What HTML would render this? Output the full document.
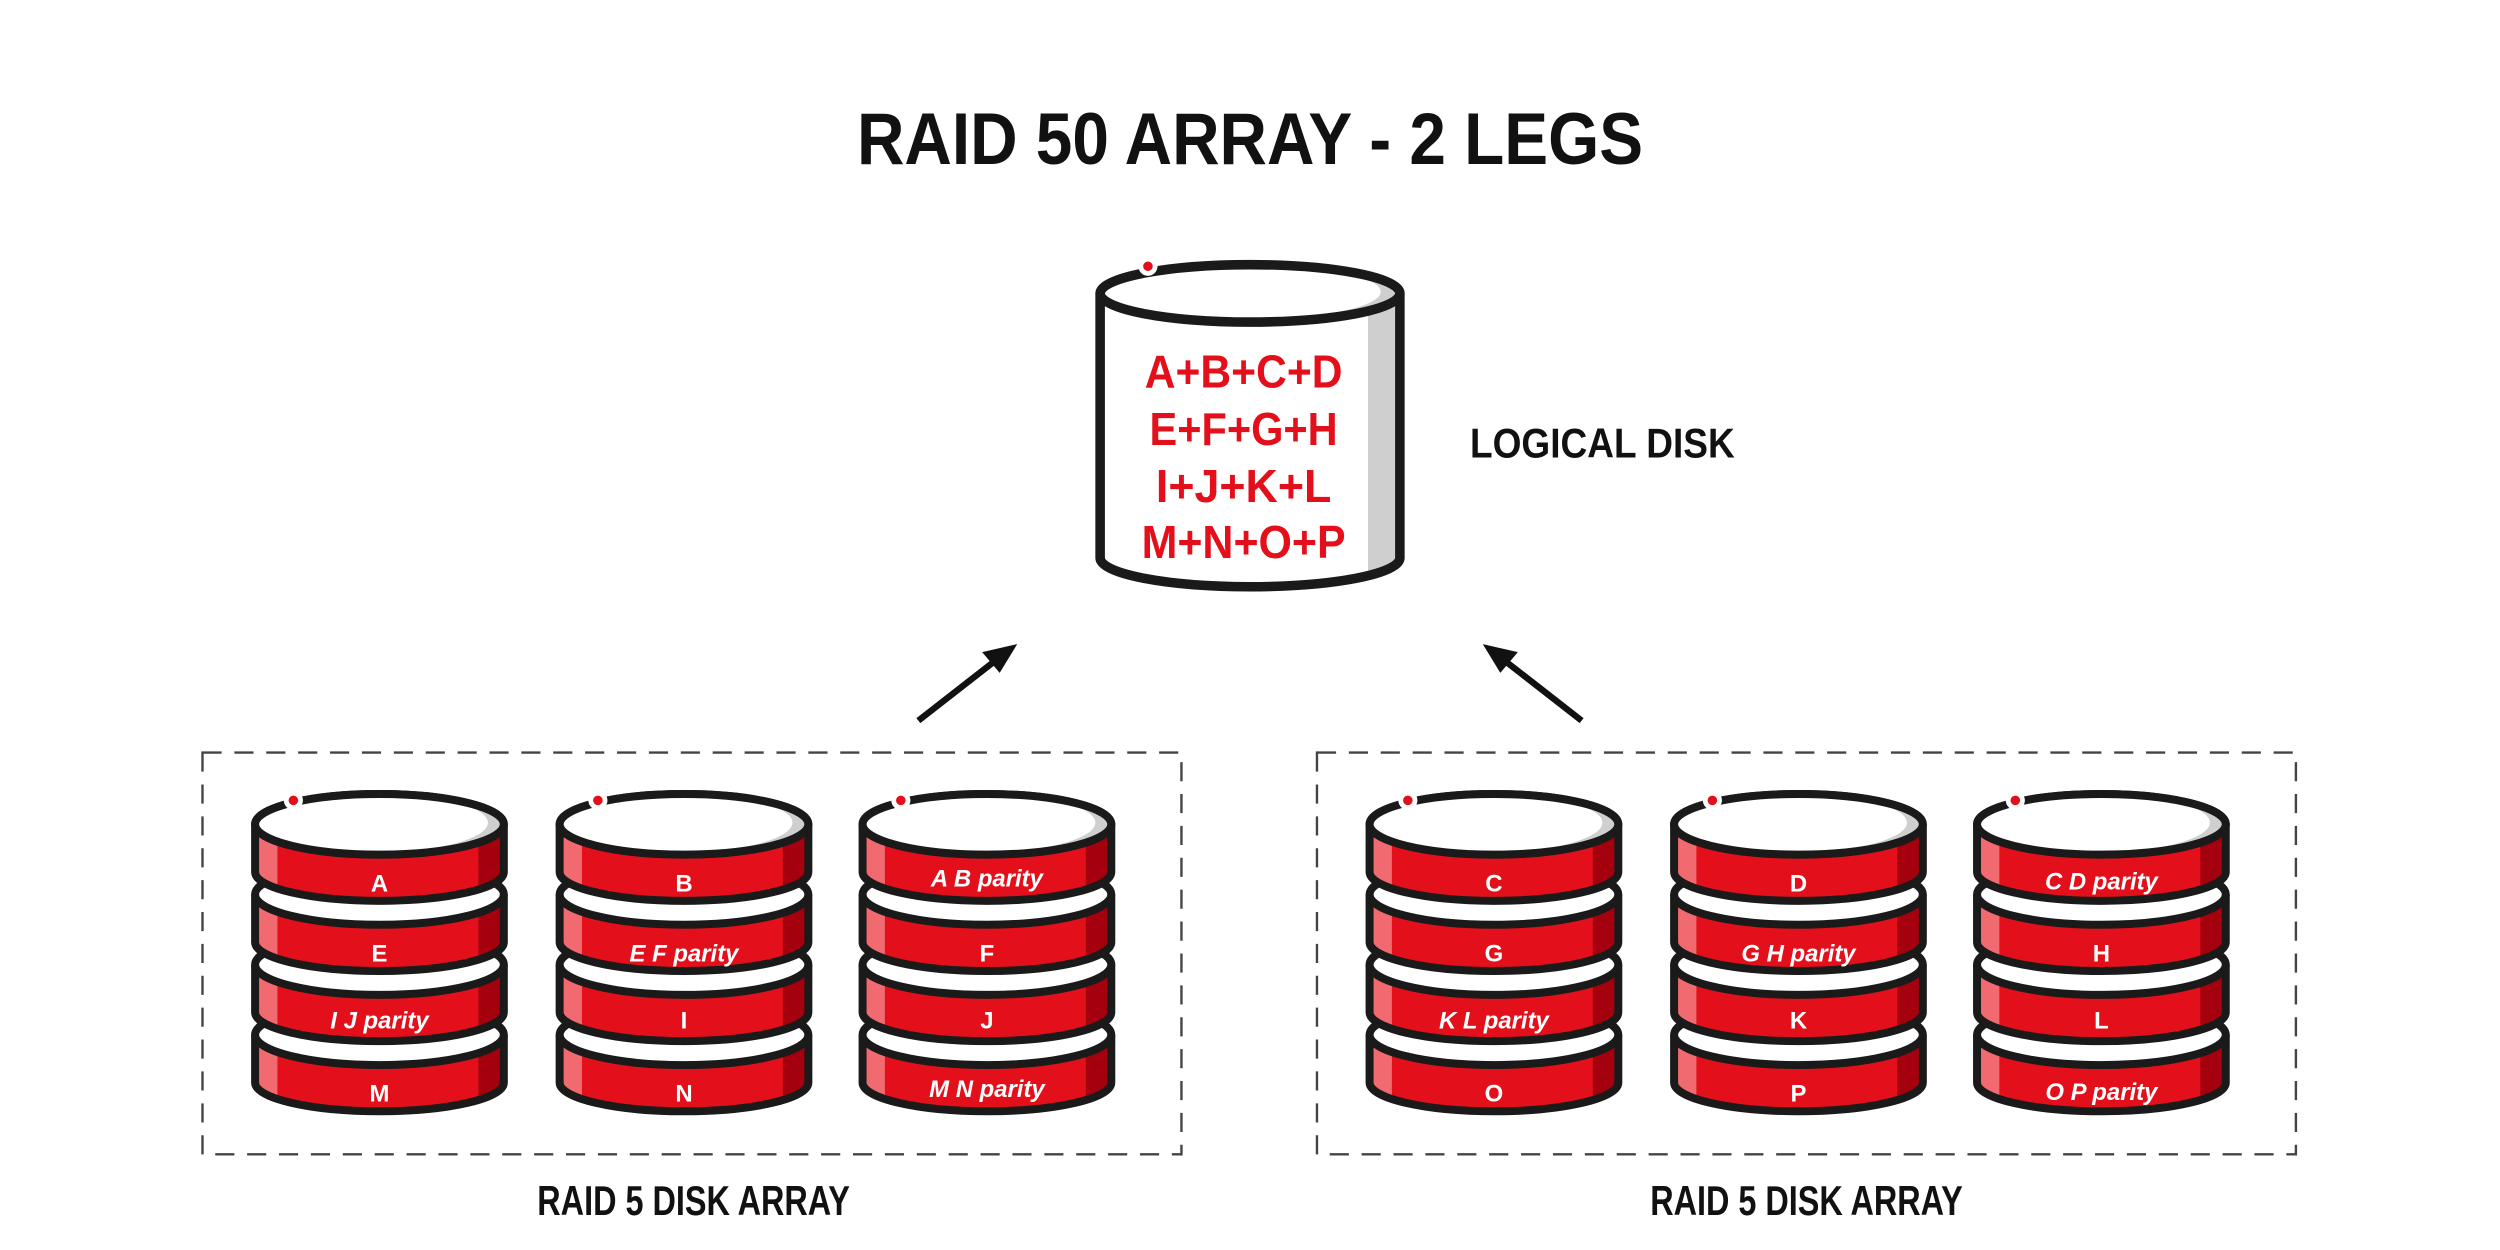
<!DOCTYPE html>
<html><head><meta charset="utf-8"><style>
html,body{margin:0;padding:0;background:#fff;}
svg{display:block;}
text{font-family:"Liberation Sans Narrow","Liberation Sans",sans-serif;font-weight:bold;}
</style></head><body>
<svg width="2500" height="1250" viewBox="0 0 1568 784" xmlns="http://www.w3.org/2000/svg">
<defs>
<clipPath id="sc"><path d="M-78,0 L-78,30 A78,18 0 0 0 78,30 L78,0 Z"/></clipPath>
<clipPath id="ec"><ellipse cx="0" cy="0" rx="78" ry="19"/></clipPath>
<clipPath id="lc"><ellipse cx="784" cy="184" rx="94" ry="18"/></clipPath>
<clipPath id="lb"><path d="M690,184 L690,350 A94,18 0 0 0 878,350 L878,184 Z"/></clipPath>
<g id="plat">
  <path d="M-78,0 L-78,30 A78,18 0 0 0 78,30 L78,0 Z" fill="#e3101b"/>
  <g clip-path="url(#sc)">
    <rect x="-80" y="-2" width="16" height="60" fill="#f06a70"/>
    <rect x="62" y="-2" width="18" height="60" fill="#a5000d"/>
  </g>
  <path d="M-78,0 L-78,30 A78,18 0 0 0 78,30 L78,0" fill="none" stroke="#1a1a1a" stroke-width="5"/>
  <ellipse cx="0" cy="0" rx="78" ry="19" fill="#fff" stroke="#1a1a1a" stroke-width="5"/>
</g>
<g id="topdeco">
  <g clip-path="url(#ec)">
    <ellipse cx="0" cy="0" rx="78" ry="19" fill="#cfcfcf"/>
    <ellipse cx="-8" cy="-1" rx="76" ry="19" fill="#fff"/>
  </g>
  <ellipse cx="0" cy="0" rx="78" ry="19" fill="none" stroke="#1a1a1a" stroke-width="5"/>
  <circle cx="-54" cy="-15" r="6" fill="#fff"/>
  <circle cx="-54" cy="-15" r="3" fill="#e3101b"/>
</g>
<g id="disk">
  <use href="#plat" y="132"/>
  <use href="#plat" y="88"/>
  <use href="#plat" y="44"/>
  <use href="#plat" y="0"/>
  <use href="#topdeco"/>
</g>
</defs>

<text x="784" y="103" font-size="46" text-anchor="middle" textLength="493" lengthAdjust="spacingAndGlyphs" fill="#111">RAID 50 ARRAY - 2 LEGS</text>

<!-- logical disk -->
<path d="M690,184 L690,350 A94,18 0 0 0 878,350 L878,184" fill="#fff"/>
<rect x="858" y="190" width="18" height="190" fill="#cfcfcf" clip-path="url(#lb)"/>
<path d="M690,184 L690,350 A94,18 0 0 0 878,350 L878,184" fill="none" stroke="#1a1a1a" stroke-width="6"/>
<g clip-path="url(#lc)">
  <ellipse cx="784" cy="184" rx="94" ry="18" fill="#cfcfcf"/>
  <ellipse cx="774" cy="183" rx="92" ry="18" fill="#fff"/>
</g>
<ellipse cx="784" cy="184" rx="94" ry="18" fill="none" stroke="#1a1a1a" stroke-width="6"/>
<circle cx="720" cy="167" r="6" fill="#fff"/><circle cx="720" cy="167" r="3" fill="#e3101b"/>
<g fill="#e3101b" font-size="29" text-anchor="middle">
<text x="780" y="243" textLength="124" lengthAdjust="spacingAndGlyphs">A+B+C+D</text>
<text x="780" y="279" textLength="118" lengthAdjust="spacingAndGlyphs">E+F+G+H</text>
<text x="780" y="315" textLength="110" lengthAdjust="spacingAndGlyphs">I+J+K+L</text>
<text x="780" y="350" textLength="128" lengthAdjust="spacingAndGlyphs">M+N+O+P</text>
</g>
<text x="922" y="287" font-size="26" textLength="166" lengthAdjust="spacingAndGlyphs" fill="#111">LOGICAL DISK</text>

<!-- arrows -->
<g stroke="#111" stroke-width="4">
<line x1="576" y1="452" x2="626" y2="413"/>
<line x1="992" y1="452" x2="942" y2="413"/>
</g>
<polygon points="638,404 616,409 627,422" fill="#111"/>
<polygon points="930,404 952,409 941,422" fill="#111"/>

<!-- dashed boxes -->
<g fill="none" stroke="#444" stroke-width="1.5" stroke-dasharray="12,8">
<rect x="127" y="472" width="614" height="252"/>
<rect x="826" y="472" width="614" height="252"/>
</g>
<text x="435" y="762" font-size="26" text-anchor="middle" textLength="196" lengthAdjust="spacingAndGlyphs" fill="#111">RAID 5 DISK ARRAY</text>
<text x="1133" y="762" font-size="26" text-anchor="middle" textLength="196" lengthAdjust="spacingAndGlyphs" fill="#111">RAID 5 DISK ARRAY</text>

<use href="#disk" x="238" y="517"/>
<use href="#disk" x="429" y="517"/>
<use href="#disk" x="619" y="517"/>
<use href="#disk" x="937" y="517"/>
<use href="#disk" x="1128" y="517"/>
<use href="#disk" x="1318" y="517"/>

<g fill="#fff" font-size="15" text-anchor="middle">
<text x="238" y="559">A</text><text x="238" y="603">E</text><text x="238" y="645" font-style="italic">I J parity</text><text x="238" y="691">M</text>
<text x="429" y="559">B</text><text x="429" y="603" font-style="italic">E F parity</text><text x="429" y="645">I</text><text x="429" y="691">N</text>
<text x="619" y="556" font-style="italic">A B parity</text><text x="619" y="603">F</text><text x="619" y="645">J</text><text x="619" y="688" font-style="italic">M N parity</text>
<text x="937" y="559">C</text><text x="937" y="603">G</text><text x="937" y="645" font-style="italic">K L parity</text><text x="937" y="691">O</text>
<text x="1128" y="559">D</text><text x="1128" y="603" font-style="italic">G H parity</text><text x="1128" y="645">K</text><text x="1128" y="691">P</text>
<text x="1318" y="558" font-style="italic">C D parity</text><text x="1318" y="603">H</text><text x="1318" y="645">L</text><text x="1318" y="690" font-style="italic">O P parity</text>
</g>
</svg>
</body></html>
